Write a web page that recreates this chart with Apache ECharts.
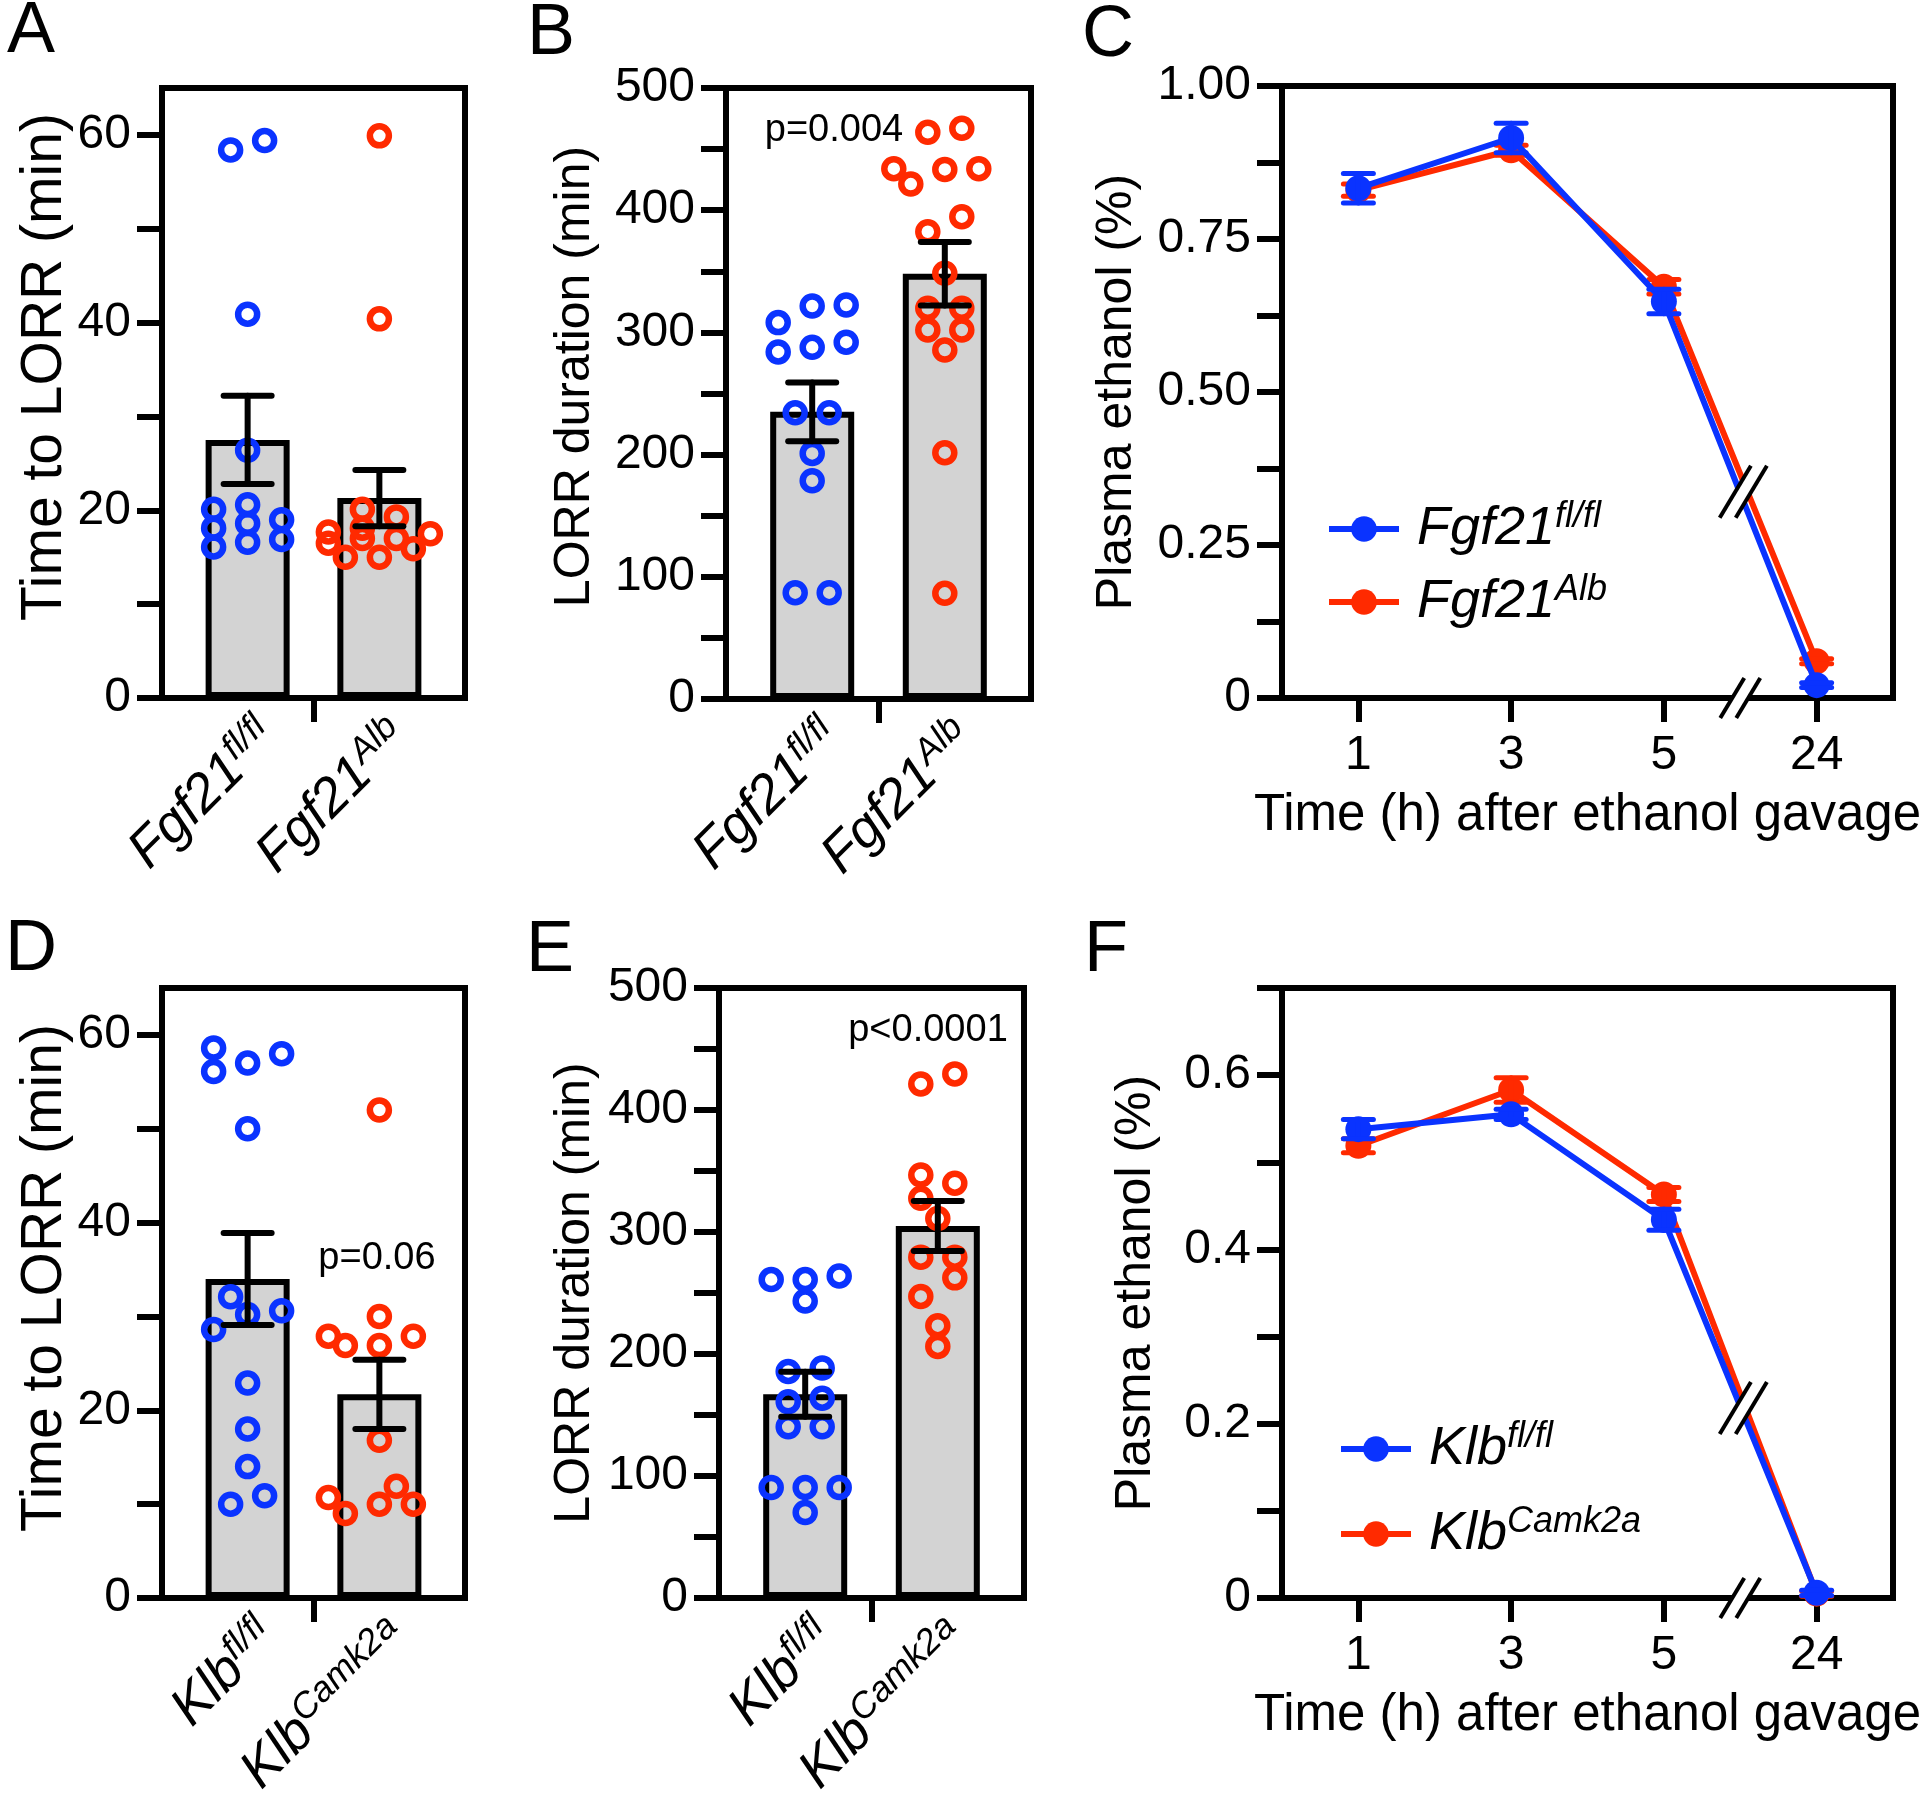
<!DOCTYPE html>
<html><head><meta charset="utf-8">
<script src="https://cdn.jsdelivr.net/npm/echarts@6/dist/echarts.min.js"></script>
<style>html,body{margin:0;padding:0;background:#fff}#c{width:1920px;height:1793px}</style>
</head><body><div id="c"></div>
<script>
// ---------------- data ----------------
const groupsTop = ['Fgf21 fl/fl', 'Fgf21 Alb'];
const groupsBottom = ['Klb fl/fl', 'Klb Camk2a'];

const aFlPoints  = [59.4, 58.4, 40.9, 26.4, 20.6, 20.1, 19.0, 18.6, 18.1, 16.9, 16.6, 16.1];
const aAlbPoints = [59.9, 40.4, 20.1, 19.3, 18.1, 17.7, 17.5, 17.0, 17.0, 16.5, 15.9, 15.0, 15.0];
const aMeans = [27.5, 21.3];
const aSems  = [4.7, 3.0];

const bFlPoints  = [322.4, 321.6, 308, 292, 287.8, 284, 234.3, 234.3, 201, 178.6, 87, 87];
const bAlbPoints = [467, 463.7, 434, 434, 433.4, 421.4, 394.7, 382.4, 348.4, 319.7, 319.7, 302, 302, 285.6, 201.6, 86.5];
const bMeans = [235, 348];
const bSems  = [24, 26];

const dFlPoints   = [58.6, 58.0, 57.0, 56.1, 50.0, 32.1, 30.6, 30.2, 28.6, 22.9, 18.0, 14.0, 10.9, 10.0];
const dCamkPoints = [52.0, 30.0, 27.9, 27.9, 26.9, 26.9, 16.8, 11.9, 10.7, 10.0, 10.0, 9.0];
const dMeans = [34.0, 21.7];
const dSems  = [4.9, 3.7];

const eFlPoints   = [264, 261, 261, 243.4, 188.6, 185.7, 163.8, 160.8, 140.3, 140.3, 90.6, 90.6, 90.6, 70.1];
const eCamkPoints = [429.6, 421.4, 346.7, 340, 327.7, 311, 279.4, 279.4, 262.4, 247.2, 223.2, 206.2];
const eMeans = [167, 305];
const eSems  = [18.5, 20.5];

const timeLabels = ['1', '3', '5', '24'];
const cFlMean  = [0.833, 0.915, 0.648, 0.021];
const cFlSem   = [0.024, 0.024, 0.020, 0.004];
const cAlbMean = [0.830, 0.895, 0.672, 0.060];
const cAlbSem  = [0.010, 0.008, 0.012, 0.004];
const fFlMean   = [0.538, 0.555, 0.434, 0.006];
const fFlSem    = [0.011, 0.006, 0.012, 0.003];
const fCamkMean = [0.519, 0.583, 0.463, 0.005];
const fCamkSem  = [0.008, 0.014, 0.008, 0.003];

// axis-break marks: [x, y, kind] (kind 0 = on x axis, 1 = on data lines)
const cBreaks = [[2.5, 0, 0], [2.52, 0.337, 1]];
const fBreaks = [[2.5, 0, 0], [2.52, 0.218, 1]];

const pTexts = ['p=0.004', 'p=0.06', 'p<0.0001'];
const panelLetters = ['A', 'B', 'C', 'D', 'E', 'F'];

// ---------------- styling ----------------
const BLUE = '#0a33ff', RED = '#ff2a00', BLACK = '#000';
const FONT = '"Liberation Sans", Arial, Helvetica, sans-serif';
const AXW = 6;

const grids = [
  {left: 162, top: 88, width: 303, height: 610},   // A
  {left: 726, top: 88, width: 305, height: 611},   // B
  {left: 1282, top: 86, width: 611, height: 612},  // C
  {left: 162, top: 988, width: 303, height: 610},  // D
  {left: 719, top: 988, width: 305, height: 610},  // E
  {left: 1282, top: 988, width: 611, height: 610}  // F
].map(g => Object.assign({show: true, borderColor: BLACK, borderWidth: AXW,
  backgroundColor: 'rgba(0,0,0,0)', containLabel: false, outerBoundsMode: 'none'}, g));

const geneRich = {
  it:  {fontSize: 54, fontStyle: 'italic', fontFamily: FONT, color: BLACK, lineHeight: 60},
  sup: {fontSize: 36, fontStyle: 'italic', fontFamily: FONT, color: BLACK, lineHeight: 36, verticalAlign: 'top'}
};
function geneLabel(name) {
  const parts = name.split(' ');
  return '{it|' + parts[0] + '}{sup|' + parts[1] + '}';
}
function range(a, b, s) { const r = []; for (let v = a; v <= b + 1e-9; v += s) r.push(+v.toFixed(6)); return r; }

const xAxes = [], yAxes = [], series = [];

function errRender(halfCap, color, width, cap) {
  return function (params, api) {
    const x = api.value(0), lo = api.value(1), hi = api.value(2);
    const a = api.coord([x, lo]), b = api.coord([x, hi]);
    const st = {stroke: color, lineWidth: width, lineCap: cap};
    return {type: 'group', children: [
      {type: 'line', shape: {x1: a[0], y1: a[1], x2: b[0], y2: b[1]}, style: st},
      {type: 'line', shape: {x1: a[0] - halfCap, y1: a[1], x2: a[0] + halfCap, y2: a[1]}, style: st},
      {type: 'line', shape: {x1: b[0] - halfCap, y1: b[1], x2: b[0] + halfCap, y2: b[1]}, style: st}
    ]};
  };
}

function yAxisCfg(gi, max, tickStep, labelStep, name, nameGap, nameSize, namePad, fmt) {
  return {
    gridIndex: gi, type: 'value', min: 0, max: max,
    axisLine: {show: true, onZero: false, lineStyle: {color: BLACK, width: AXW}},
    axisTick: {show: true, customValues: range(0, max, tickStep), length: 25, lineStyle: {color: BLACK, width: AXW}},
    axisLabel: {customValues: range(0, max, labelStep), margin: 31, fontSize: 48, color: BLACK, fontFamily: FONT,
      formatter: fmt},
    splitLine: {show: false},
    name: name, nameLocation: 'middle', nameRotate: 90, nameGap: nameGap, nameMoveOverlap: false,
    nameTextStyle: {fontSize: nameSize, color: BLACK, fontFamily: FONT, padding: [0, 0, 0, namePad]}
  };
}

function barPanel(gi, cats, means, sems, ptsBlue, ptsRed, yMax, tickStep, labelStep, yName, nameGap, nameSize, namePad) {
  xAxes.push({
    gridIndex: gi, type: 'value', min: 0.35, max: 2.65,
    axisLine: {show: true, onZero: false, lineStyle: {color: BLACK, width: AXW}},
    axisTick: {show: true, customValues: [1.5], length: 24, lineStyle: {color: BLACK, width: AXW}},
    axisLabel: {customValues: [1, 2], rotate: 45, margin: 53, padding: [0, -30, 0, 0],
      formatter: v => geneLabel(cats[Math.round(v) - 1]), rich: geneRich},
    splitLine: {show: false}
  });
  yAxes.push(yAxisCfg(gi, yMax, tickStep, labelStep, yName, nameGap, nameSize, namePad, v => String(v)));
  series.push({
    type: 'bar', xAxisIndex: gi, yAxisIndex: gi, silent: true, z: 2,
    data: means.map((m, i) => [i + 1, m]), barWidth: 84,
    itemStyle: {color: '#d3d3d3', borderColor: BLACK, borderWidth: AXW}
  });
  [[ptsBlue, BLUE], [ptsRed, RED]].forEach(([pts, col], k) => {
    series.push({
      id: 'sw' + gi + '_' + k, type: 'scatter', xAxisIndex: gi, yAxisIndex: gi, silent: true, z: 3,
      symbol: 'circle', symbolSize: 19, data: [],
      itemStyle: {color: 'rgba(0,0,0,0)', borderColor: col, borderWidth: 6.5, opacity: 1}
    });
  });
  series.push({
    type: 'custom', xAxisIndex: gi, yAxisIndex: gi, silent: true, z: 4, clip: false,
    encode: {x: 0, y: [1, 2]},
    data: means.map((m, i) => [i + 1, m - sems[i], m + sems[i]]),
    renderItem: errRender(24, BLACK, AXW, 'round')
  });
}

function breakRender(params, api) {
  const p = api.coord([api.value(0), api.value(1)]);
  const onLine = api.value(2) === 1;
  const h = onLine ? 26 : 20, gh = onLine ? 22 : 9, sep = 8, k = 0.6;
  return {type: 'group', children: [
    {type: 'polygon', shape: {points: [
      [p[0] - sep - gh * k, p[1] + gh], [p[0] - sep + gh * k, p[1] - gh],
      [p[0] + sep + gh * k, p[1] - gh], [p[0] + sep - gh * k, p[1] + gh]]}, style: {fill: '#fff'}},
    {type: 'line', shape: {x1: p[0] - sep - h * k, y1: p[1] + h, x2: p[0] - sep + h * k, y2: p[1] - h},
      style: {stroke: BLACK, lineWidth: 4}},
    {type: 'line', shape: {x1: p[0] + sep - h * k, y1: p[1] + h, x2: p[0] + sep + h * k, y2: p[1] - h},
      style: {stroke: BLACK, lineWidth: 4}}
  ]};
}

function timePanel(gi, names, flMean, flSem, redMean, redSem, yMax, tickStep, labelStep, digits, nameGap, breaks) {
  xAxes.push({
    gridIndex: gi, type: 'value', min: -0.5, max: 3.5,
    axisLine: {show: true, onZero: false, lineStyle: {color: BLACK, width: AXW}},
    axisTick: {show: true, customValues: [0, 1, 2, 3], length: 24, lineStyle: {color: BLACK, width: AXW}},
    axisLabel: {customValues: [0, 1, 2, 3], margin: 34, fontSize: 48, color: BLACK, fontFamily: FONT,
      formatter: v => timeLabels[Math.round(v)]},
    splitLine: {show: false},
    name: 'Time (h) after ethanol gavage', nameLocation: 'middle', nameGap: 92, nameMoveOverlap: false,
    nameTextStyle: {fontSize: 51, color: BLACK, fontFamily: FONT}
  });
  yAxes.push(yAxisCfg(gi, yMax, tickStep, labelStep, 'Plasma ethanol (%)', nameGap, 50, 0,
    v => (Math.abs(v) < 1e-9 ? '0' : v.toFixed(digits))));
  const sets = [[names[1], redMean, redSem, RED, 3], [names[0], flMean, flSem, BLUE, 5]];
  sets.forEach(([nm, mean, sem, col, z]) => {
    series.push({
      name: nm, type: 'line', xAxisIndex: gi, yAxisIndex: gi, z: z, silent: true,
      data: mean.map((m, i) => [i, m]), symbol: 'circle', symbolSize: 26, showSymbol: true,
      lineStyle: {color: col, width: 6}, itemStyle: {color: col}
    });
    series.push({
      type: 'custom', xAxisIndex: gi, yAxisIndex: gi, z: z + 1, silent: true, clip: false,
      encode: {x: 0, y: [1, 2]},
      data: mean.map((m, i) => [i, m - sem[i], m + sem[i]]),
      renderItem: errRender(15, col, 5, 'round')
    });
  });
  series.push({
    type: 'custom', xAxisIndex: gi, yAxisIndex: gi, z: 10, silent: true, clip: false,
    encode: {x: 0, y: 1}, data: breaks, renderItem: breakRender
  });
}

barPanel(0, groupsTop, aMeans, aSems, aFlPoints, aAlbPoints, 65, 10, 20, 'Time to LORR (min)', 88, 57, 52);
barPanel(1, groupsTop, bMeans, bSems, bFlPoints, bAlbPoints, 500, 50, 100, 'LORR duration (min)', 126, 50, 34);
timePanel(2, ['Fgf21 fl/fl', 'Fgf21 Alb'], cFlMean, cFlSem, cAlbMean, cAlbSem, 1, 0.125, 0.25, 2, 140, cBreaks);
barPanel(3, groupsBottom, dMeans, dSems, dFlPoints, dCamkPoints, 65, 10, 20, 'Time to LORR (min)', 88, 57, 30);
barPanel(4, groupsBottom, eMeans, eSems, eFlPoints, eCamkPoints, 500, 50, 100, 'LORR duration (min)', 119, 50, 0);
timePanel(5, ['Klb fl/fl', 'Klb Camk2a'], fFlMean, fFlSem, fCamkMean, fCamkSem, 0.7, 0.1, 0.2, 1, 121, fBreaks);

function legendFor(name, left, centerY) {
  return {
    data: [name], left: left, top: centerY - 30, orient: 'vertical', padding: 0,
    itemWidth: 70, itemHeight: 32, selectedMode: false,
    lineStyle: {width: 6}, itemStyle: {borderWidth: 0},
    formatter: n => geneLabel(n),
    textStyle: {rich: geneRich, padding: [0, 0, 0, 13]}
  };
}
const legends = [
  legendFor('Fgf21 fl/fl', 1326, 529), legendFor('Fgf21 Alb', 1326, 602),
  legendFor('Klb fl/fl', 1338, 1449), legendFor('Klb Camk2a', 1338, 1534)
];

const letterPos = [[31, 32], [551, 34], [1108, 36], [31, 950], [550, 951], [1106, 951]];
const pPos = [[834, 131], [377, 1259], [928, 1031]];
const graphics = [];
panelLetters.forEach((L, i) => graphics.push({type: 'text', x: letterPos[i][0], y: letterPos[i][1], silent: true,
  style: {text: L, fontSize: 72, fontFamily: FONT, fill: BLACK, align: 'center', verticalAlign: 'middle',
    textAlign: 'center', textVerticalAlign: 'middle'}}));
pTexts.forEach((t, i) => graphics.push({type: 'text', x: pPos[i][0], y: pPos[i][1], silent: true,
  style: {text: t, fontSize: 38, fontFamily: FONT, fill: BLACK, align: 'center', verticalAlign: 'middle',
    textAlign: 'center', textVerticalAlign: 'middle'}}));

const chart = echarts.init(document.getElementById('c'), null, {renderer: 'canvas'});
chart.setOption({
  animation: false, backgroundColor: '#fff',
  textStyle: {fontFamily: FONT},
  grid: grids, xAxis: xAxes, yAxis: yAxes, series: series, legend: legends, graphic: graphics
});

// ---------- beeswarm layout of the dots (computed, Prism-like rows) ----------
function combos(n) {
  const G = [-51, -34, -17, 0, 17, 34, 51], out = [];
  (function rec(start, cur) {
    if (cur.length === n) { out.push(cur.slice()); return; }
    for (let i = start; i < G.length; i++) {
      if (cur.length && G[i] - cur[cur.length - 1] < 34) continue;
      cur.push(G[i]); rec(i + 1, cur); cur.pop();
    }
  })(0, []);
  return out;
}
function perms(a) {
  if (a.length <= 1) return [a.slice()];
  const r = [];
  a.forEach((x, i) => perms(a.slice(0, i).concat(a.slice(i + 1))).forEach(p => r.push([x].concat(p))));
  return r;
}
function swarm(values, pxY) {
  const vals = values.slice().sort((a, b) => a - b);
  const rows = []; let cur = [];
  vals.forEach(v => {
    if (cur.length && ((v - cur[0]) * pxY >= 20 || cur.length >= 3)) { rows.push(cur); cur = []; }
    cur.push(v);
  });
  if (cur.length) rows.push(cur);
  const placed = [];
  rows.forEach(row => {
    let best = null, bestScore = Infinity;
    combos(row.length).forEach(c => {
      perms(row).forEach(p => {
        let pen = 0;
        c.forEach((off, k) => placed.forEach(q => {
          const dx = (off - q.off) / 34, dy = (p[k] - q.v) * pxY / 19;
          const d = Math.sqrt(dx * dx + dy * dy);
          if (d < 1) pen += 1 - d;
        }));
        const s = c.reduce((a, b) => a + Math.abs(b), 0) + Math.abs(c.reduce((a, b) => a + b, 0)) * 0.5;
        const score = pen * 1000 + s;
        if (score < bestScore) { bestScore = score; best = {c, p}; }
      });
    });
    best.c.forEach((off, k) => placed.push({off, v: best.p[k]}));
  });
  return placed;
}
const swarmSets = [[0, aFlPoints, aAlbPoints], [1, bFlPoints, bAlbPoints], [3, dFlPoints, dCamkPoints], [4, eFlPoints, eCamkPoints]];
const upd = [];
swarmSets.forEach(([gi, blue, red]) => {
  const p0 = chart.convertToPixel({gridIndex: gi}, [1, 0]);
  const p1 = chart.convertToPixel({gridIndex: gi}, [2, 1]);
  const pxX = p1[0] - p0[0], pxY = p0[1] - p1[1];
  [blue, red].forEach((vals, k) => {
    const center = k + 1;
    upd.push({id: 'sw' + gi + '_' + k, data: swarm(vals, pxY).map(q => [center + q.off / pxX, q.v])});
  });
});
chart.setOption({series: upd});
</script></body></html>
